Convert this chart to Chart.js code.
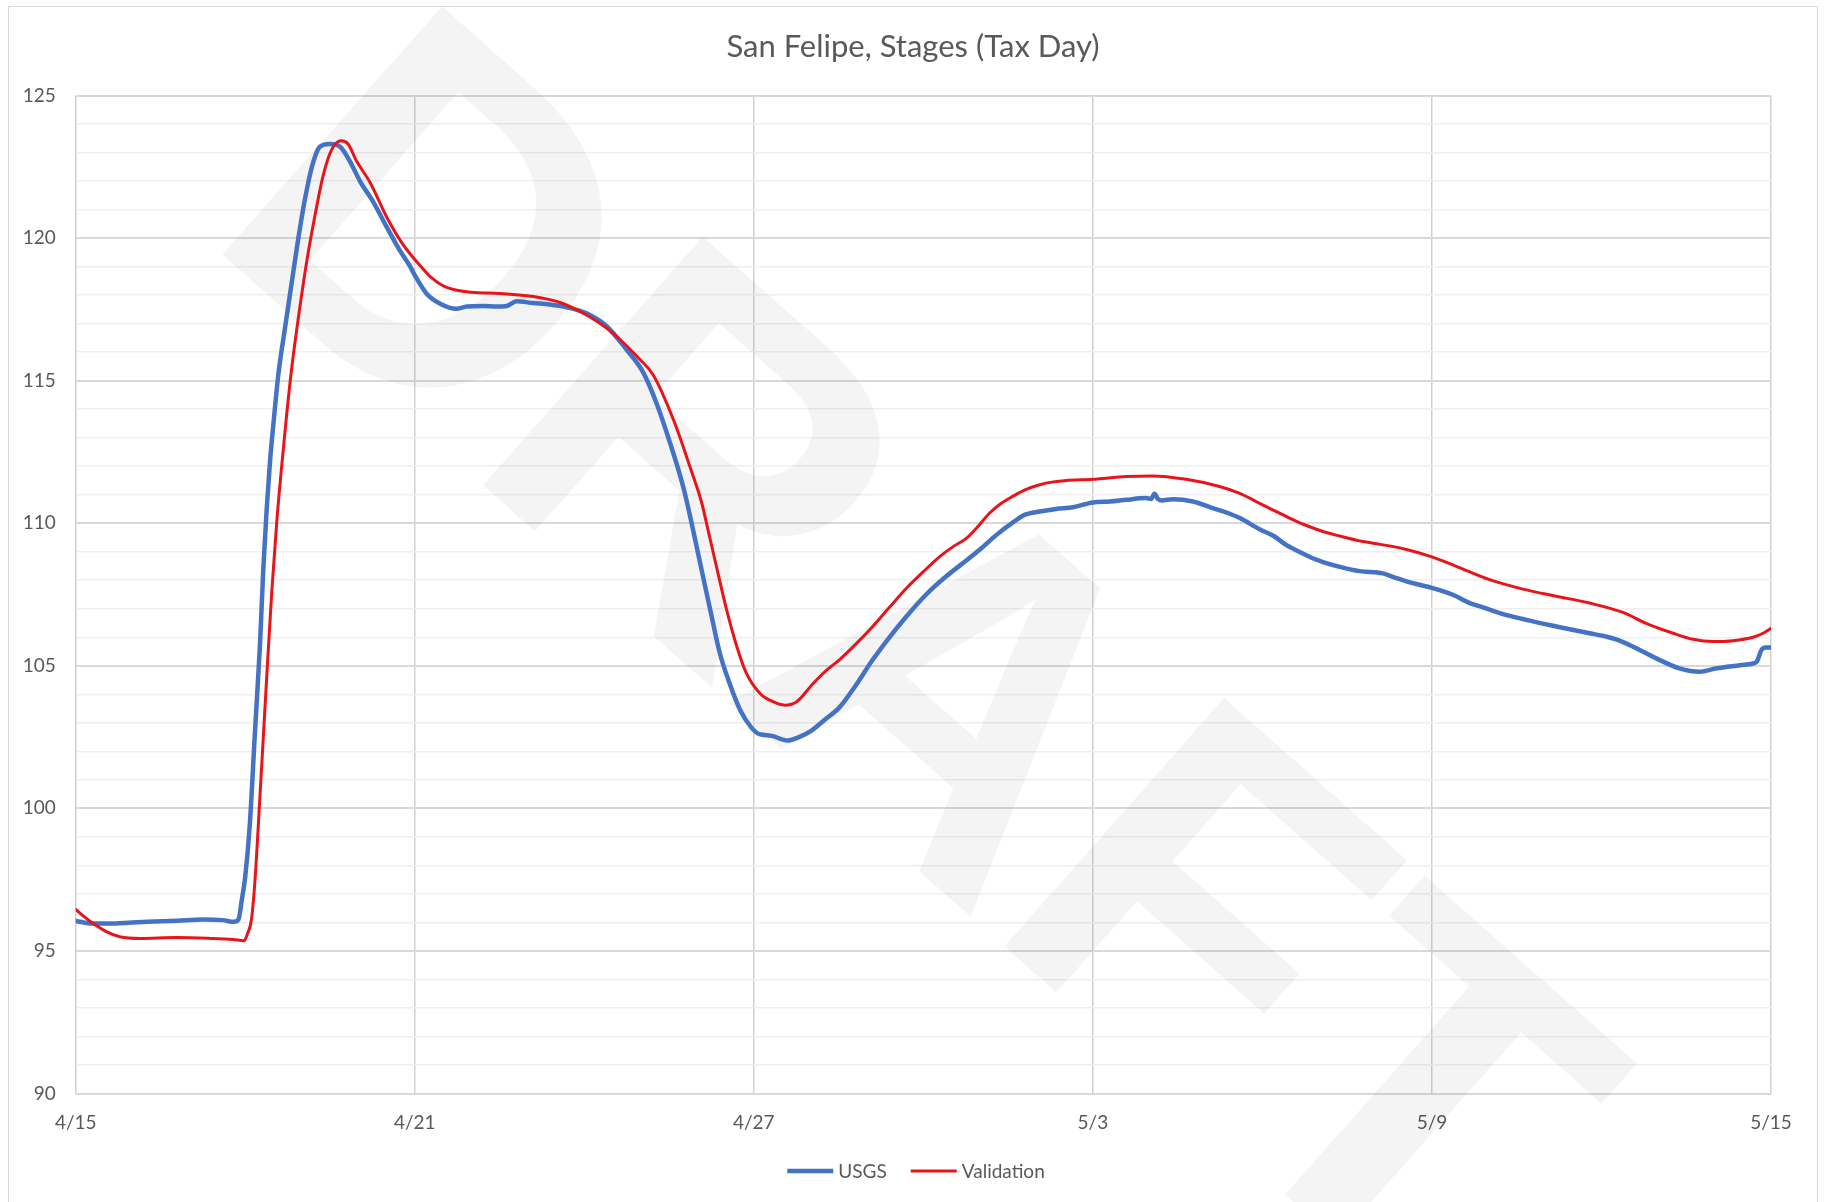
<!DOCTYPE html>
<html>
<head>
<meta charset="utf-8">
<title>San Felipe, Stages (Tax Day)</title>
<script src="https://cdn.jsdelivr.net/npm/chart.js@4.4.1/dist/chart.umd.min.js"></script>
<style>
  html, body { margin: 0; padding: 0; background: #ffffff; }
  canvas { display: block; }
</style>
</head>
<body>
<canvas id="stages" width="1826" height="1202"></canvas>
<script>
// Stage readings, days after 4/15
const usgsDays = [0, 0.3, 0.6, 1.0, 1.4, 1.8, 2.25, 2.6, 2.8, 2.88, 2.94, 3.0, 3.08, 3.17, 3.26, 3.32, 3.38, 3.44, 3.5, 3.585, 3.7, 3.82, 3.94, 4.06, 4.18, 4.32, 4.5, 4.68, 4.85, 5.03, 5.27, 5.5, 5.74, 5.92, 6.0, 6.21, 6.45, 6.74, 6.92, 7.21, 7.45, 7.63, 7.8, 8.1, 8.39, 8.69, 9.04, 9.4, 9.75, 10.04, 10.28, 10.52, 10.75, 10.9, 11.05, 11.23, 11.4, 11.55, 11.76, 11.95, 12.1, 12.3, 12.6, 12.8, 13.0, 13.25, 13.52, 13.8, 14.1, 14.4, 14.7, 15.05, 15.4, 15.7, 15.99, 16.3, 16.58, 16.8, 17.06, 17.35, 17.65, 18.0, 18.3, 18.59, 18.94, 19.03, 19.09, 19.15, 19.21, 19.42, 19.77, 20.12, 20.4, 20.6, 20.95, 21.2, 21.42, 21.65, 21.89, 22.1, 22.37, 22.72, 23.13, 23.31, 23.55, 24.0, 24.37, 24.67, 24.9, 25.2, 25.67, 26.2, 26.79, 27.09, 27.3, 27.56, 27.97, 28.38, 28.74, 29.03, 29.45, 29.68, 29.75, 29.83, 29.9, 30.0];
const usgsStages = [96.05, 95.96, 95.96, 96.0, 96.03, 96.06, 96.1, 96.08, 96.02, 96.1, 96.8, 97.6, 99.4, 102.6, 105.7, 108.4, 110.5, 112.2, 113.5, 115.2, 116.8, 118.4, 120.0, 121.4, 122.5, 123.2, 123.3, 123.2, 122.7, 122.0, 121.25, 120.4, 119.55, 119.0, 118.7, 118.05, 117.7, 117.52, 117.6, 117.62, 117.6, 117.62, 117.78, 117.72, 117.67, 117.57, 117.36, 116.9, 116.08, 115.3, 114.2, 112.8, 111.28, 110.0, 108.6, 106.95, 105.43, 104.5, 103.44, 102.85, 102.6, 102.55, 102.38, 102.5, 102.7, 103.1, 103.55, 104.3, 105.2, 106.0, 106.73, 107.5, 108.13, 108.6, 109.06, 109.6, 110.02, 110.3, 110.41, 110.5, 110.56, 110.73, 110.76, 110.82, 110.88, 110.85, 111.03, 110.85, 110.8, 110.84, 110.76, 110.53, 110.35, 110.18, 109.79, 109.55, 109.24, 109.0, 108.77, 108.62, 108.47, 108.32, 108.24, 108.12, 107.96, 107.73, 107.49, 107.2, 107.05, 106.85, 106.61, 106.38, 106.14, 106.02, 105.9, 105.67, 105.26, 104.91, 104.79, 104.91, 105.02, 105.08, 105.15, 105.55, 105.64, 105.64];

const validationDays = [0, 0.15, 0.31, 0.55, 0.78, 1.14, 1.79, 2.38, 2.79, 2.98, 3.04, 3.11, 3.17, 3.26, 3.38, 3.47, 3.56, 3.64, 3.73, 3.82, 3.94, 4.09, 4.235, 4.38, 4.53, 4.7, 4.82, 4.97, 5.21, 5.5, 5.8, 6.0, 6.09, 6.3, 6.53, 7.0, 7.5, 8.1, 8.57, 9.04, 9.51, 9.99, 10.22, 10.58, 10.87, 11.08, 11.19, 11.34, 11.52, 11.7, 11.87, 12.11, 12.34, 12.55, 12.76, 13.05, 13.29, 13.52, 13.8, 14.1, 14.4, 14.7, 15.0, 15.29, 15.52, 15.76, 15.95, 16.17, 16.38, 16.58, 16.8, 17.06, 17.3, 17.53, 18.0, 18.59, 19.06, 19.65, 20.24, 20.6, 20.89, 21.18, 21.48, 21.78, 22.07, 22.37, 22.72, 22.96, 23.55, 24.0, 24.43, 25.02, 25.61, 26.2, 26.79, 27.38, 27.79, 28.27, 28.62, 28.97, 29.33, 29.68, 29.86, 30.0];
const validationStages = [96.46, 96.2, 95.96, 95.67, 95.5, 95.44, 95.47, 95.44, 95.4, 95.36, 95.6, 96.1, 97.4, 100.4, 104.6, 107.6, 110.1, 111.9, 113.75, 115.4, 117.2, 119.2, 120.8, 122.2, 123.1, 123.41, 123.3, 122.7, 121.95, 120.75, 119.75, 119.25, 119.05, 118.6, 118.3, 118.1, 118.06, 117.95, 117.74, 117.3, 116.66, 115.73, 115.2, 113.62, 111.98, 110.7, 109.76, 108.47, 106.95, 105.67, 104.73, 104.03, 103.74, 103.62, 103.74, 104.38, 104.85, 105.22, 105.75, 106.37, 107.05, 107.72, 108.3, 108.83, 109.17, 109.47, 109.85, 110.35, 110.7, 110.94, 111.17, 111.35, 111.45, 111.5, 111.54, 111.64, 111.66, 111.54, 111.29, 111.05, 110.76, 110.47, 110.18, 109.92, 109.71, 109.55, 109.38, 109.3, 109.08, 108.82, 108.49, 108.02, 107.69, 107.44, 107.2, 106.87, 106.49, 106.14, 105.93, 105.85, 105.88, 106.0, 106.14, 106.32];

// Date labels every 6 days
const tickDays = [0, 6, 12, 18, 24, 30];
const tickLabels = ['4/15', '4/21', '4/27', '5/3', '5/9', '5/15'];

const seriesNames = ['USGS', 'Validation'];
const seriesColors = ['#4472C4', '#E8141A'];
const chartTitle = 'San Felipe, Stages (Tax Day)';

const toPoints = (days, stages) => days.map((d, i) => ({ x: d, y: stages[i] }));

const TEXT_GRAY = '#595959';
const FONT = 'Lato, "Open Sans", sans-serif';

// Page frame, white background and centred title
const framePlugin = {
  id: 'frame',
  beforeDraw(chart) {
    const { ctx, width, height } = chart;
    ctx.save();
    ctx.fillStyle = '#ffffff';
    ctx.fillRect(0, 0, width, height);
    ctx.strokeStyle = '#d9d9d9';
    ctx.lineWidth = 1;
    ctx.strokeRect(8.5, 6.5, 1809, height + 20);
    ctx.font = `31px ${FONT}`;
    ctx.fillStyle = TEXT_GRAY;
    ctx.textAlign = 'center';
    ctx.textBaseline = 'middle';
    ctx.fillText(chartTitle, 913, 47);
    ctx.restore();
  }
};

// Diagonal DRAFT stamp behind the lines
const stampPlugin = {
  id: 'stamp',
  beforeDatasetsDraw(chart) {
    const { ctx } = chart;
    const size = 482;
    ctx.save();
    ctx.translate(924, 645);
    ctx.rotate(41.5 * Math.PI / 180);
    ctx.font = `bold ${size}px "Liberation Sans", Arial, sans-serif`;
    ctx.textAlign = 'center';
    ctx.textBaseline = 'alphabetic';
    ctx.fillStyle = 'rgba(0, 0, 0, 0.045)';
    ctx.fillText('DRAFT', 0, size * 0.716 / 2);
    ctx.restore();
  }
};

// Line-sample legend under the axis
const legendPlugin = {
  id: 'lineLegend',
  afterDraw(chart) {
    const { ctx } = chart;
    const y = 1171;
    const sample = 46, gap = 5, spacing = 24;
    ctx.save();
    ctx.font = `19px ${FONT}`;
    ctx.textBaseline = 'middle';
    ctx.textAlign = 'left';
    const items = chart.data.datasets.map(ds => ({
      label: ds.label, color: ds.borderColor, w: ds.borderWidth,
      tw: ctx.measureText(ds.label).width
    }));
    const total = items.reduce((s, it) => s + sample + gap + it.tw, 0) + spacing * (items.length - 1);
    let x = 916 - total / 2;
    items.forEach(it => {
      ctx.strokeStyle = it.color;
      ctx.lineWidth = it.w;
      ctx.beginPath();
      ctx.moveTo(x, y);
      ctx.lineTo(x + sample, y);
      ctx.stroke();
      x += sample + gap;
      ctx.fillStyle = TEXT_GRAY;
      ctx.fillText(it.label, x, y + 1);
      x += it.tw + spacing;
    });
    ctx.restore();
  }
};

new Chart(document.getElementById('stages'), {
  type: 'line',
  data: {
    datasets: [
      {
        label: seriesNames[0],
        data: toPoints(usgsDays, usgsStages),
        borderColor: seriesColors[0],
        backgroundColor: seriesColors[0],
        borderWidth: 4.5,
        order: 2
      },
      {
        label: seriesNames[1],
        data: toPoints(validationDays, validationStages),
        borderColor: seriesColors[1],
        backgroundColor: seriesColors[1],
        borderWidth: 3,
        order: 1
      }
    ]
  },
  options: {
    responsive: false,
    animation: false,
    devicePixelRatio: 1,
    layout: { padding: { left: 15.7, right: 55, top: 95.5, bottom: 58.5 } },
    elements: {
      point: { radius: 0, hoverRadius: 0 },
      line: { cubicInterpolationMode: 'monotone', borderCapStyle: 'round', borderJoinStyle: 'round' }
    },
    plugins: {
      legend: { display: false },
      tooltip: { enabled: false },
      title: { display: false }
    },
    scales: {
      x: {
        type: 'linear',
        min: tickDays[0],
        max: tickDays[tickDays.length - 1],
        afterBuildTicks(scale) {
          scale.ticks = tickDays.map(v => ({ value: v }));
        },
        afterFit(scale) { scale.height = 50; },
        border: { display: false },
        grid: { color: '#d0d0d0', lineWidth: 1.5, drawTicks: false },
        ticks: {
          color: TEXT_GRAY,
          font: { family: FONT, size: 19 },
          padding: 18,
          maxRotation: 0,
          autoSkip: false,
          callback: (value) => {
            const i = tickDays.indexOf(value);
            return i >= 0 ? tickLabels[i] : '';
          }
        }
      },
      y: {
        min: 90,
        max: 125,
        afterFit(scale) { scale.width = 60; },
        border: { display: false },
        grid: {
          drawTicks: false,
          color: (c) => (c.tick && c.tick.value % 5 === 0) ? '#d9d9d9' : '#efefef',
          lineWidth: (c) => (c.tick && c.tick.value % 5 === 0) ? 2 : 1.5
        },
        ticks: {
          stepSize: 1,
          autoSkip: false,
          color: TEXT_GRAY,
          font: { family: FONT, size: 19 },
          padding: 20,
          callback: (value) => value % 5 === 0 ? String(value) : ''
        }
      }
    }
  },
  plugins: [framePlugin, stampPlugin, legendPlugin]
});
</script>
</body>
</html>
